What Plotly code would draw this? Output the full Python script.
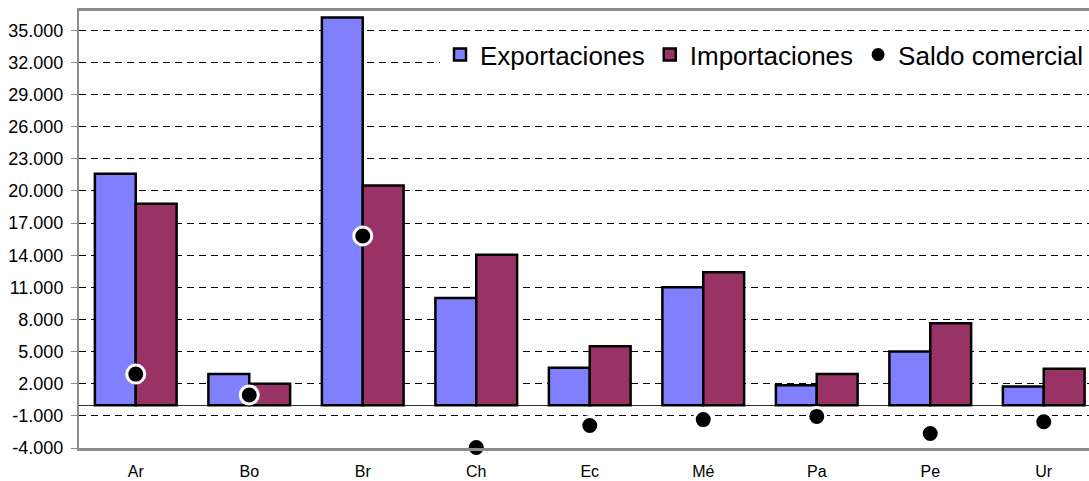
import plotly.graph_objects as go

paises = ["Ar", "Bo", "Br", "Ch", "Ec", "Mé", "Pa", "Pe", "Ur"]
exportaciones = [21600, 2900, 36200, 10000, 3500, 11000, 1850, 5000, 1750]
importaciones = [18800, 2000, 20500, 14050, 5500, 12400, 2900, 7650, 3400]
saldo = [2900, 950, 15800, -3950, -1900, -1350, -1050, -2650, -1550]
y_ticks = list(range(-4000, 36000, 3000))
y_ticktext = [f"{v:,}".replace(",", ".") for v in y_ticks]

FONT = "Arial, Liberation Sans, sans-serif"

fig = go.Figure()
fig.add_trace(go.Bar(
    x=paises, y=exportaciones, name="Exportaciones",
    marker=dict(color="#8080FF", line=dict(color="black", width=2.5)),
))
fig.add_trace(go.Bar(
    x=paises, y=importaciones, name="Importaciones",
    marker=dict(color="#993366", line=dict(color="black", width=2.5)),
))
fig.add_trace(go.Scatter(
    x=paises, y=saldo, name="Saldo comercial", mode="markers",
    marker=dict(color="black", size=18, line=dict(color="white", width=3)),
    cliponaxis=False,
))

n = len(paises)
x_end = -0.5 + (1089 - 79) / 113.5
y_lo, y_hi = -4000, 36800

fig.update_layout(
    width=1089, height=481,
    margin=dict(l=79, r=0, t=11, b=33),
    paper_bgcolor="white", plot_bgcolor="white",
    font=dict(family=FONT, color="black"),
    barmode="group", bargap=0.28, bargroupgap=0,
    separators=",.",
    showlegend=True,
    legend=dict(
        orientation="h", x=1.0, xanchor="right", y=0.9, yanchor="middle",
        bgcolor="white", font=dict(size=26, family=FONT),
        itemwidth=30, traceorder="normal",
    ),
    xaxis=dict(
        range=[-0.5, x_end], showgrid=False, automargin=False,
        showline=True, linecolor="#8c8c8c", linewidth=3, mirror=True,
        ticks="", tickfont=dict(size=16), ticklabelstandoff=7,
    ),
    xaxis2=dict(
        overlaying="x", anchor="free", automargin=False,
        position=(0 - y_lo) / (y_hi - y_lo),
        range=[-0.5, x_end],
        tickmode="array", tickvals=[i + 0.5 for i in range(n - 1)],
        ticks="outside", ticklen=5, tickcolor="#333333", tickwidth=1,
        showticklabels=False, showgrid=False, showline=False, zeroline=False,
    ),
    yaxis=dict(
        range=[y_lo, y_hi], automargin=False,
        tickmode="array", tickvals=y_ticks, ticktext=y_ticktext,
        tickfont=dict(size=18),
        showgrid=True, gridcolor="black", gridwidth=1, griddash="7px,5px",
        zeroline=True, zerolinecolor="#333333", zerolinewidth=1,
        showline=True, linecolor="#8c8c8c", linewidth=2,
        ticks="outside", ticklen=6, tickcolor="#8c8c8c", tickwidth=1,
        ticklabelstandoff=4,
    ),
)

fig.write_html("out.html")
